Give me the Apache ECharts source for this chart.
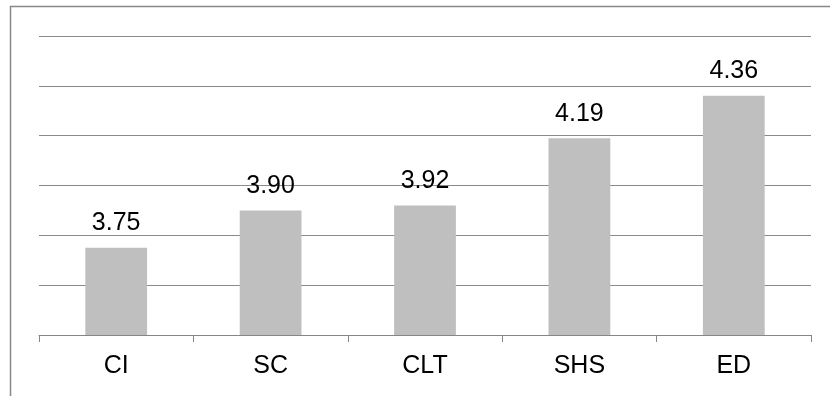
<!DOCTYPE html>
<html>
<head>
<meta charset="utf-8">
<script src="https://cdn.jsdelivr.net/npm/echarts@6/dist/echarts.min.js"></script>
<style>
  html, body { margin: 0; padding: 0; background: #fff; }
  #chart { width: 830px; height: 396px; }
</style>
</head>
<body>
<div id="chart"></div>
<script>
// Mean scores per dimension
const categories = ['CI', 'SC', 'CLT', 'SHS', 'ED'];
const scores = [3.75, 3.90, 3.92, 4.19, 4.36];

const chart = echarts.init(document.getElementById('chart'), null, { renderer: 'canvas' });

chart.setOption({
  animation: false,
  backgroundColor: '#ffffff',
  graphic: [{
    type: 'rect',
    shape: { x: 10.5, y: 6.5, width: 840, height: 420 },
    style: { fill: 'none', stroke: '#888888', lineWidth: 1.5 },
    silent: true
  }],
  grid: { left: 39, right: 19, top: 36, bottom: 61, containLabel: false },
  xAxis: {
    type: 'category',
    data: categories,
    axisLine: { show: true, lineStyle: { color: '#868686', width: 1 } },
    axisTick: { show: true, length: 7, alignWithLabel: false, lineStyle: { color: '#868686' } },
    axisLabel: { color: '#000', fontFamily: 'Liberation Sans, Arial, sans-serif', fontSize: 25, margin: 19 }
  },
  yAxis: {
    type: 'value',
    min: 3.4,
    max: 4.6,
    interval: 0.2,
    axisLine: { show: false },
    axisTick: { show: false },
    axisLabel: { show: false },
    splitLine: { show: true, lineStyle: { color: '#8a8a8a', width: 1 } }
  },
  series: [{
    type: 'bar',
    data: scores,
    barWidth: '40%',
    itemStyle: { color: '#bfbfbf' },
    label: {
      show: true,
      position: 'top',
      distance: 12,
      color: '#000',
      fontFamily: 'Liberation Sans, Arial, sans-serif',
      fontSize: 25,
      formatter: p => p.value.toFixed(2)
    }
  }]
});
</script>
</body>
</html>
